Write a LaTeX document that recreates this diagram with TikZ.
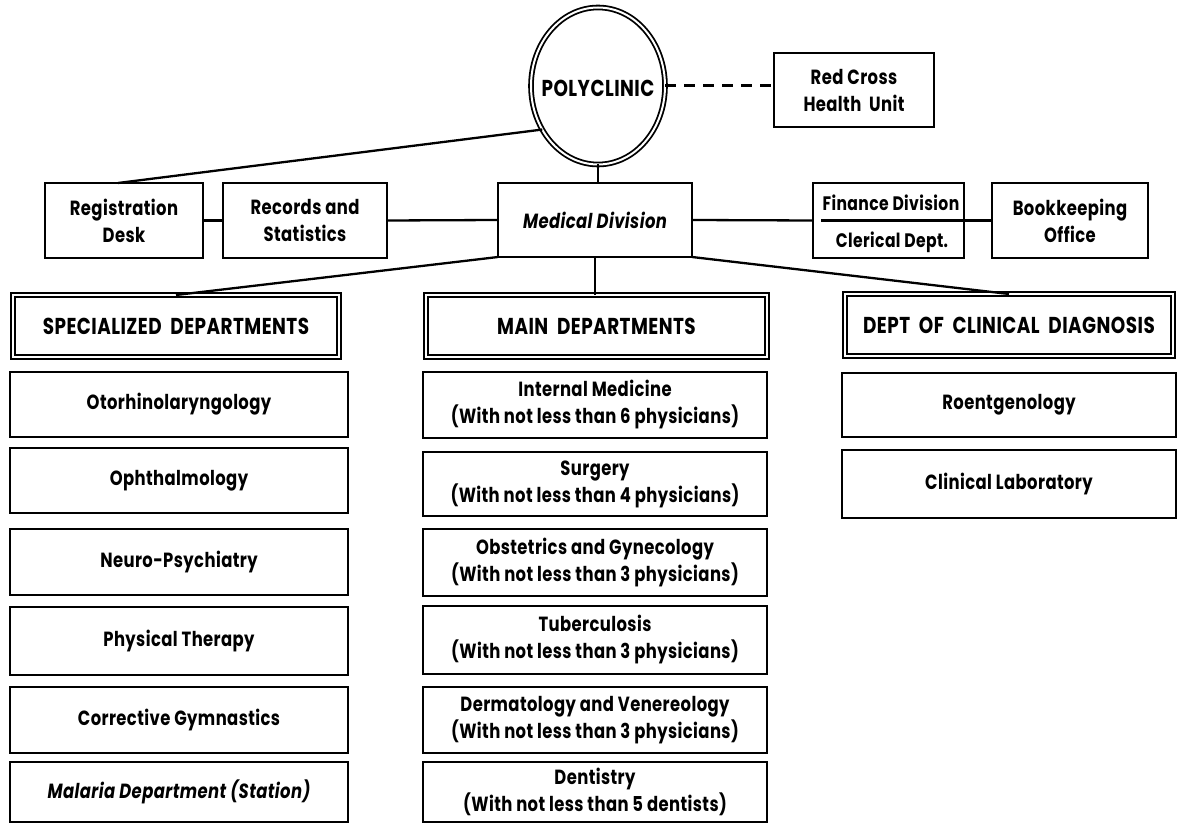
\documentclass[tikz,border=0pt]{standalone}
\usepackage{fontspec}
\setmainfont{Poppins}[FakeStretch=0.8, LetterSpace=2]
\usetikzlibrary{shapes.geometric}
\newcommand\boxfnt{\fontsize{20.5}{27}\selectfont\bfseries}
\newcommand\hdrfnt{\fontsize{23}{27}\selectfont\bfseries}
\newcommand\finfnt{\fontsize{19.5}{27}\selectfont\bfseries}
\begin{document}
\begin{tikzpicture}[x=1pt,y=-1pt,
  every node/.style={inner sep=0pt, outer sep=0pt, font=\boxfnt, align=center},
  box/.style={draw, line width=2.6pt, rectangle},
  hdr/.style={draw, double, double distance=2.6pt, line width=1.8pt, rectangle, font=\hdrfnt},
  conn/.style={line width=2.3pt},
  lcol/.style={box, minimum width=338},
  mcol/.style={box, minimum width=344},
  rcol/.style={box, minimum width=334}]
\useasboundingbox (0,0) rectangle (1178,826);
\fill[white] (0,0) rectangle (1178,826);
% top
\node[ellipse, draw, double, double distance=2pt, line width=1.8pt, minimum width=134, minimum height=157] (poly) at (598,86) {};
\node[font=\hdrfnt] (polyt) at (598,88) {POLYCLINIC};
\node[box, minimum width=160, minimum height=74] (red) at (854,90) {Red Cross\\Health\ \ Unit};
% second row
\node[box, minimum width=158, minimum height=75] (reg) at (124,220.5) {Registration\\Desk};
\node[box, minimum width=164, minimum height=75] (rec) at (305,220.5) {Records and\\Statistics};
\node[box, minimum width=194, minimum height=74] (med) at (595,220) {\itshape Medical Division};
\node[box, minimum width=151, minimum height=75] (fin) at (888.5,220.5) {};
\node[anchor=base, font=\finfnt] (fint) at (891,211) {Finance Division};
\node[anchor=base, font=\finfnt] (clet) at (892,248) {Clerical Dept.};
\node[box, minimum width=156, minimum height=75] (book) at (1070,220.5) {Bookkeeping\\Office};
% headers
\node[hdr, minimum width=326, minimum height=62] (spec) at (176,326) {SPECIALIZED\ \ DEPARTMENTS};
\node[hdr, minimum width=341, minimum height=62] (main) at (596.5,326) {MAIN\ \ DEPARTMENTS};
\node[hdr, minimum width=328, minimum height=62] (dept) at (1009,325) {DEPT\ \ OF\ \ CLINICAL\ \ DIAGNOSIS};
% left column
\node[lcol, minimum height=65] (oto) at (179,404.5) {Otorhinolaryngology};
\node[lcol, minimum height=65] (oph) at (179,480.5) {Ophthalmology};
\node[lcol, minimum height=66] (neu) at (179,562) {Neuro-Psychiatry};
\node[lcol, minimum height=68] (phy) at (179,641) {Physical Therapy};
\node[lcol, minimum height=66] (cor) at (179,720) {Corrective Gymnastics};
\node[lcol, minimum height=60] (mal) at (179,792) {\itshape Malaria Department (Station)};
% middle column
\node[mcol, minimum height=66] (im) at (595,405) {Internal Medicine\\(With not less than 6 physicians)};
\node[mcol, minimum height=64] (sur) at (595,484) {Surgery\\(With not less than 4 physicians)};
\node[mcol, minimum height=67] (obs) at (595,562.5) {Obstetrics and Gynecology\\(With not less than 3 physicians)};
\node[mcol, minimum height=68] (tub) at (595,640) {Tuberculosis\\(With not less than 3 physicians)};
\node[mcol, minimum height=66] (der) at (595,720) {Dermatology and Venereology\\(With not less than 3 physicians)};
\node[mcol, minimum height=60] (den) at (595,792) {Dentistry\\(With not less than 5 dentists)};
% right column
\node[rcol, minimum height=64] (roe) at (1009,405) {Roentgenology};
\node[rcol, minimum height=68] (lab) at (1009,484) {Clinical Laboratory};
% connectors
\draw[line width=3pt, dash pattern=on 11pt off 8pt] (poly.east) -- (poly.east -| red.west);
\draw[conn] (poly.218) -- ([xshift=-6pt]reg.north);
\draw[conn] (poly.south) -- (poly.south |- med.north);
\draw[conn] (reg.east) -- (rec.west);
\draw[conn] (rec.east) -- (med.west);
\draw[conn] (med.east) -- (fin.west);
\draw[conn] ([xshift=8pt]fin.west) -- (fin.east);
\draw[conn] (fin.east) -- (book.west);
\draw[conn] (med.south west) -- (spec.north);
\draw[conn] (med.south) -- (med.south |- main.north);
\draw[conn] (med.south east) -- (dept.north);
\end{tikzpicture}
\end{document}
